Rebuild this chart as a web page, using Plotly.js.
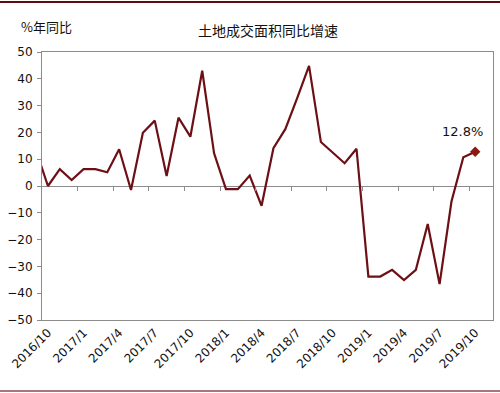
<!DOCTYPE html>
<html>
<head>
<meta charset="utf-8">
<script src="https://cdn.plot.ly/plotly-3.0.1.min.js"></script>
<style>
  html, body { margin: 0; padding: 0; background: #fff; }
  #wrap { position: relative; width: 500px; height: 393px; overflow: hidden; }
  #chart { width: 500px; height: 393px; }
  .rule-top { position: absolute; left: 0; top: 1px; width: 500px; height: 2px; background: #5e0b12; }
  .rule-bot { position: absolute; left: 0; top: 390px; width: 500px; height: 2px; background: #a27b78; }
</style>
</head>
<body>
<div id="wrap">
  <div id="chart"></div>
  <div class="rule-top"></div>
  <div class="rule-bot"></div>
</div>
<script>
// Months (first entry is the partially visible month before the first labelled one)
const months = [
  '2016/9','2016/10','2016/11','2016/12',
  '2017/1','2017/2','2017/3','2017/4','2017/5','2017/6','2017/7','2017/8','2017/9','2017/10','2017/11','2017/12',
  '2018/1','2018/2','2018/3','2018/4','2018/5','2018/6','2018/7','2018/8','2018/9','2018/10','2018/11','2018/12',
  '2019/1','2019/2','2019/3','2019/4','2019/5','2019/6','2019/7','2019/8','2019/9','2019/10'
];
// 土地成交面积同比增速 (%)
const growth = [
  13.2, 0, 6.3, 2.2,
  6.3, 6.3, 5.1, 13.7, -1.5, 19.9, 24.4, 3.7, 25.5, 18.4, 43.0, 12.2,
  -1.2, -1.2, 3.9, -7.4, 14.1, 21.2, 32.8, 44.8, 16.4, 12.4, 8.5, 13.9,
  -33.8, -33.8, -31.3, -35.1, -31.3, -14.2, -36.6, -5.8, 10.7, 12.8
];
const tickLabels = ['2016/10','2017/1','2017/4','2017/7','2017/10','2018/1','2018/4','2018/7','2018/10','2019/1','2019/4','2019/7','2019/10'];
const yTicks = [-50, -40, -30, -20, -10, 0, 10, 20, 30, 40, 50];

const xs = months.map((m, i) => i);
const tickPos = tickLabels.map(l => months.indexOf(l));
const boundaryPos = tickPos.slice(1).map(p => p - 0.5);
const lastX = xs[xs.length - 1];
const lastY = growth[growth.length - 1];
const xRange = [0.5, months.length + 0.5];

const lineColor = '#6d1015';
const axisColor = '#8c8c8c';
const tickFont = { family: 'DejaVu Sans, Verdana, sans-serif', size: 12, color: '#111' };

const traces = [
  {
    x: xs, y: growth, type: 'scatter', mode: 'lines',
    line: { color: lineColor, width: 2.2 }, hoverinfo: 'skip', showlegend: false
  },
  {
    x: [lastX], y: [lastY], type: 'scatter', mode: 'markers',
    marker: { symbol: 'diamond', size: 8, color: '#8b1a10' }, hoverinfo: 'skip', showlegend: false
  },
  {
    x: [], y: [], xaxis: 'x2', type: 'scatter', mode: 'lines', showlegend: false, hoverinfo: 'skip'
  }
];

const layout = {
  width: 500, height: 393,
  margin: { l: 42, r: 7, t: 52, b: 73 },
  paper_bgcolor: '#fff', plot_bgcolor: '#fff',
  showlegend: false,
  title: {
    text: '土地成交面积同比增速',
    font: { family: 'Noto Sans CJK SC, sans-serif', size: 14, color: '#111' },
    x: 0.536, xanchor: 'center', y: 0.922, yanchor: 'middle'
  },
  xaxis: {
    range: xRange, tickmode: 'array', tickvals: tickPos, ticktext: tickLabels,
    tickangle: -45, tickfont: tickFont, ticks: '', showgrid: false, zeroline: false,
    showline: true, mirror: true, linecolor: axisColor, linewidth: 1
  },
  xaxis2: {
    overlaying: 'x', anchor: 'free', position: 0.5, side: 'bottom',
    range: xRange, tickmode: 'array', tickvals: boundaryPos,
    ticks: 'outside', ticklen: 4, tickcolor: axisColor, tickwidth: 1,
    showticklabels: false, showgrid: false, zeroline: false, showline: false
  },
  yaxis: {
    range: [-50, 50], tickmode: 'array', tickvals: yTicks, tickfont: tickFont,
    ticks: 'outside', ticklen: 4, tickcolor: axisColor, ticklabelstandoff: 2,
    showgrid: false, zeroline: true, zerolinecolor: axisColor, zerolinewidth: 1,
    showline: true, mirror: true, linecolor: axisColor, linewidth: 1
  },
  annotations: [
    {
      xref: 'paper', yref: 'paper', x: -0.05, y: 1.094, xanchor: 'left', yanchor: 'middle',
      text: '%年同比', showarrow: false,
      font: { family: 'Noto Sans CJK SC, sans-serif', size: 13, color: '#111' }
    },
    {
      x: lastX, y: lastY, xref: 'x', yref: 'y', text: lastY.toFixed(1) + '%',
      showarrow: false, xshift: -13, yshift: 20,
      font: { family: 'DejaVu Sans, Verdana, sans-serif', size: 13, color: '#111' }
    }
  ]
};

Plotly.newPlot('chart', traces, layout, { displayModeBar: false, staticPlot: true });
</script>
</body>
</html>
